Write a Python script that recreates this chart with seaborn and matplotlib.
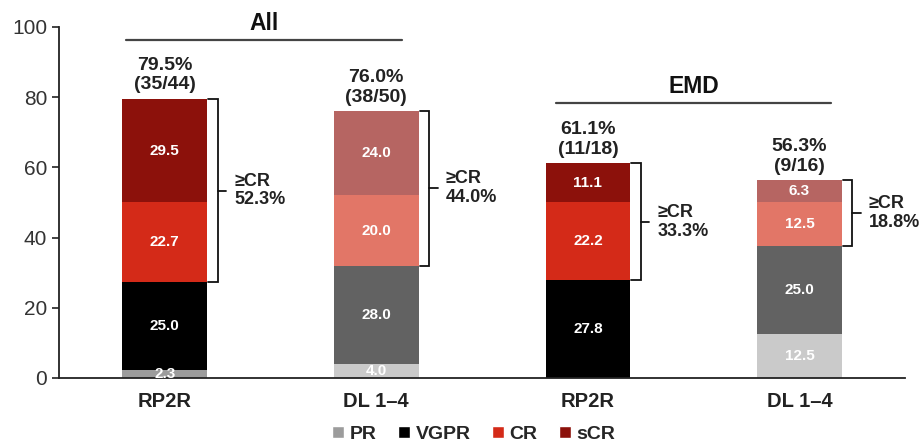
"""Stacked response bars: All vs EMD, RP2R vs DL 1-4."""
import matplotlib

matplotlib.use("Agg")
import matplotlib.pyplot as plt
import numpy as np
import pandas as pd
import seaborn as sns
from matplotlib.patches import Patch

CATS = ["All RP2R", "All DL", "EMD RP2R", "EMD DL"]
TICK_LABELS = ["RP2R", "DL 1–4", "RP2R", "DL 1–4"]
PR = [2.3, 4.0, 0.0, 12.5]
VGPR = [25.0, 28.0, 27.8, 25.0]
CR = [22.7, 20.0, 22.2, 12.5]
SCR = [29.5, 24.0, 11.1, 6.3]
TOTAL_LABELS = ["79.5%\n(35/44)", "76.0%\n(38/50)", "61.1%\n(11/18)", "56.3%\n(9/16)"]
GE_CR = ["52.3%", "44.0%", "33.3%", "18.8%"]
GROUPS = ["All", "EMD"]

# RP2R uses saturated colours, DL 1-4 the muted ones
COLORS = {
    "PR": ["#9c9c9c", "#cacaca", "#9c9c9c", "#cacaca"],
    "VGPR": ["#000000", "#626262", "#000000", "#626262"],
    "CR": ["#d42a18", "#e27667", "#d42a18", "#e27667"],
    "sCR": ["#8c110b", "#b66562", "#8c110b", "#b66562"],
}

sns.set_style("white")
plt.rcParams["font.family"] = ["Liberation Sans", "DejaVu Sans"]

df = pd.DataFrame({"cat": CATS, "PR": PR, "VGPR": VGPR, "CR": CR, "sCR": SCR})
layers = ["PR", "VGPR", "CR", "sCR"]
cum = df[layers].cumsum(axis=1)

fig = plt.figure(figsize=(9.2, 4.42), dpi=100)
ax = fig.add_axes([0.064, 0.145, 0.92, 0.794])

# draw cumulative heights from the top layer down so lower layers overlay
for layer in reversed(layers):
    sns.barplot(
        x=df["cat"], y=cum[layer], hue=df["cat"], palette=COLORS[layer],
        width=0.4, saturation=1, legend=False, ax=ax, order=CATS,
        linewidth=0,
    )

x = np.arange(len(CATS))
for i in range(len(CATS)):
    bottom = 0.0
    for layer in layers:
        v = df.loc[i, layer]
        if v > 0:
            ax.text(x[i], bottom + v / 2, f"{v:.1f}", ha="center", va="center",
                    color="white", fontsize=11, fontweight="bold")
        bottom += v
    total = bottom
    ax.annotate(TOTAL_LABELS[i], (x[i], total), xytext=(0, 4),
                textcoords="offset points", ha="center", va="bottom",
                fontsize=14, fontweight="bold", color="#222222",
                linespacing=1.2, annotation_clip=False)

    # >=CR bracket
    lo = df.loc[i, "PR"] + df.loc[i, "VGPR"]
    hi = total
    mid = (lo + hi) / 2
    xb = x[i] + 0.25
    ax.plot([x[i] + 0.205, xb, xb, x[i] + 0.205], [lo, lo, hi, hi],
            color="#111111", lw=1.3, solid_joinstyle="miter")
    ax.plot([xb, xb + 0.04], [mid, mid], color="#111111", lw=1.3)
    ax.text(xb + 0.078, mid, "≥CR\n" + GE_CR[i], ha="left", va="center",
            fontsize=13, fontweight="bold", color="#222222", linespacing=1.15)

# group headers
for (x0, x1, y), name in zip([(-0.185, 1.12, 96.3), (1.85, 3.15, 78.3)], GROUPS):
    ax.plot([x0, x1], [y, y], color="#444444", lw=1.6, clip_on=False)
    ax.text((x0 + x1) / 2, y + 1.5, name, ha="center", va="bottom",
            fontsize=16.5, fontweight="bold", color="#111111", clip_on=False)

ax.set_xlim(-0.5, 3.5)
ax.set_ylim(0, 100)
ax.set_yticks([0, 20, 40, 60, 80, 100])
ax.set_xticks(x)
ax.set_xticklabels(TICK_LABELS, fontsize=14.5, fontweight="bold", color="#222222")
ax.tick_params(axis="y", labelsize=15, labelcolor="#333333", length=5,
               width=1.2, color="#222222", direction="out", left=True)
ax.tick_params(axis="x", length=0, pad=10)
ax.set_xlabel("")
ax.set_ylabel("")
sns.despine(ax=ax)
for side in ["left", "bottom"]:
    ax.spines[side].set_color("#222222")
    ax.spines[side].set_linewidth(1.3)

handles = [Patch(facecolor=COLORS[l][0], label=l) for l in layers]
fig.legend(handles=handles, loc="lower center", bbox_to_anchor=(0.515, -0.042),
           ncol=4, frameon=False, handlelength=0.6, handleheight=0.6,
           handletextpad=0.3, columnspacing=1.1,
           prop={"weight": "bold", "size": 14})

fig.savefig("out.png", dpi=100)
